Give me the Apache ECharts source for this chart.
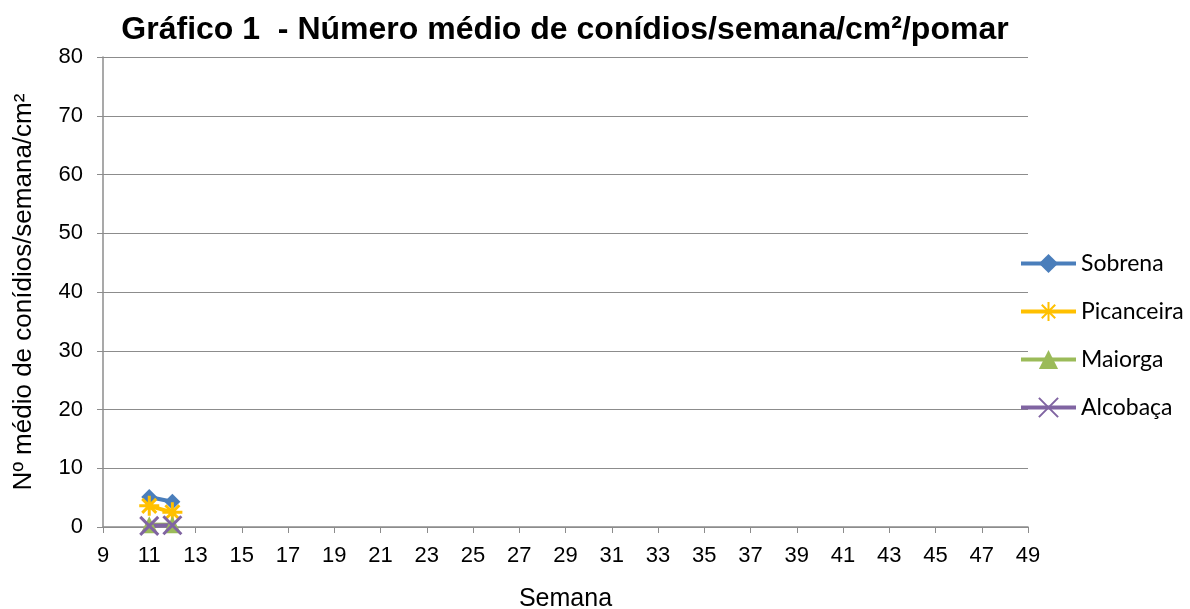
<!DOCTYPE html>
<html><head><meta charset="utf-8">
<script src="https://cdn.jsdelivr.net/npm/echarts@6/dist/echarts.min.js"></script>
<style>html,body{margin:0;padding:0;background:#fff}#c{width:1190px;height:609px}</style>
</head><body><div id="c"></div>
<script>
const weeks = [11, 12];
const sobrena = [5.1, 4.3];
const picanceira = [3.6, 2.5];
const maiorga = [0.4, 0.4];
const alcobaca = [0.2, 0.3];
const seriesNames = ['Sobrena', 'Picanceira', 'Maiorga', 'Alcobaça'];
const colors = ['#4a7ebb', '#ffc000', '#9bbb59', '#8064a2'];
const symbols = ['diamond', 'path://M0,-10L0,10M-10,0L10,0M-7,-7L7,7M-7,7L7,-7', 'triangle', 'path://M-7,-7L7,7M-7,7L7,-7'];
const sizes = [16, 20, 17, 18];
const values = [sobrena, picanceira, maiorga, alcobaca];

const chart = echarts.init(document.getElementById('c'));
const font = 'Liberation Sans, Arial, sans-serif';
chart.setOption({
  animation: false,
  title: {
    text: 'Gráfico 1  - Número médio de conídios/semana/cm²/pomar',
    left: 560, top: 9, textAlign: 'center',
    textStyle: {fontFamily: font, fontSize: 32, fontWeight: 'bold', color: '#000'}
  },
  legend: {
    orient: 'vertical', left: 1019, top: 252, padding: 0, itemGap: 25, itemWidth: 55, itemHeight: 24,
    textStyle: {fontFamily: 'Lato, sans-serif', fontSize: 23, color: '#000'},
    data: seriesNames.map((n, i) => ({name: n, lineStyle: {width: 4, color: colors[i]}}))
  },
  grid: {left: 103, right: 162, top: 57, bottom: 82, outerBoundsMode: 'none'},
  xAxis: {
    type: 'value', min: 9, max: 49, interval: 2,
    name: 'Semana', nameLocation: 'middle', nameGap: 60,
    nameTextStyle: {fontFamily: font, fontSize: 25, color: '#000'},
    axisLine: {lineStyle: {color: '#8c8c8c', width: 1.5}},
    axisTick: {show: true, length: 6, lineStyle: {color: '#8c8c8c'}},
    axisLabel: {fontFamily: font, fontSize: 22, color: '#000', margin: 18},
    splitLine: {show: false}
  },
  yAxis: {
    type: 'value', min: 0, max: 80, interval: 10,
    name: 'Nº médio de conídios/semana/cm²', nameLocation: 'middle', nameGap: 66,
    nameTextStyle: {fontFamily: font, fontSize: 26, color: '#000'},
    axisLine: {show: true, lineStyle: {color: '#8c8c8c', width: 1.5}},
    axisTick: {show: true, length: 6, lineStyle: {color: '#8c8c8c'}},
    axisLabel: {fontFamily: font, fontSize: 22, color: '#000', margin: 20},
    splitLine: {lineStyle: {color: '#8c8c8c', width: 1.2}}
  },
  series: seriesNames.map((n, i) => ({
    name: n, type: 'line',
    data: weeks.map((w, j) => [w, values[i][j]]),
    symbol: symbols[i], symbolSize: sizes[i], showSymbol: true,
    lineStyle: {color: colors[i], width: 4},
    itemStyle: {color: colors[i], borderColor: colors[i], borderWidth: (i === 1 || i === 3) ? 3 : 0}
  }))
});
</script></body></html>
